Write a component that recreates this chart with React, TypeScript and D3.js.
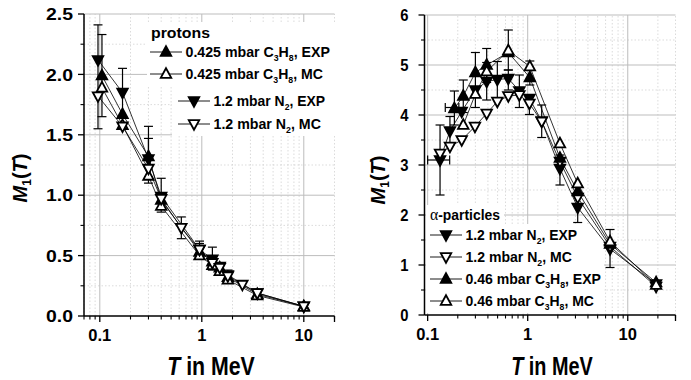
import React, { useLayoutEffect, useRef, useState } from 'react';
import * as d3 from 'd3';

const FONT = "'Liberation Sans', Arial, Helvetica, sans-serif";

// ---------- Protons panel data ----------
const pTitle = 'protons';
const pC3H8ExpLabel = '0.425 mbar C_3H_8, EXP';
const pC3H8ExpT = [0.105, 0.167, 0.3, 0.4, 0.95, 1.27, 1.5, 1.8, 3.5, 10];
const pC3H8ExpM = [1.99, 1.67, 1.32, 0.96, 0.53, 0.45, 0.4, 0.32, 0.18, 0.08];
const pC3H8ExpErr = [[0.105, 1.65, 2.33], [0.3, 1.1, 1.57], [0.95, 0.47, 0.6]];

const pC3H8McLabel = '0.425 mbar C_3H_8, MC';
const pC3H8McT = [0.105, 0.167, 0.3, 0.4, 0.95, 1.27, 1.5, 1.8, 3.5, 10];
const pC3H8McM = [1.89, 1.58, 1.16, 0.91, 0.5, 0.42, 0.37, 0.3, 0.17, 0.075];

const pN2ExpLabel = '1.2 mbar N_2, EXP';
const pN2ExpT = [0.096, 0.167, 0.3, 0.4, 0.95, 1.27, 1.5, 1.8, 3.5, 10];
const pN2ExpM = [2.12, 1.85, 1.3, 0.99, 0.55, 0.47, 0.41, 0.34, 0.19, 0.08];
const pN2ExpErr = [[0.096, 1.55, 2.41], [0.167, 1.65, 2.05], [0.3, 1.15, 1.47], [0.4, 0.86, 1.14], [0.95, 0.48, 0.62], [1.27, 0.38, 0.57], [1.8, 0.3, 0.38]];

const pN2McLabel = '1.2 mbar N_2, MC';
const pN2McT = [0.096, 0.167, 0.3, 0.4, 0.63, 0.95, 1.27, 1.5, 1.8, 2.5, 3.5, 10];
const pN2McM = [1.82, 1.57, 1.22, 0.97, 0.73, 0.55, 0.44, 0.4, 0.33, 0.26, 0.19, 0.08];
const pN2McErr = [[0.63, 0.64, 0.82]];

const pXTicks = [0.1, 1, 10];
const pXTickLabels = ['0.1', '1', '10'];
const pYTicks = [0, 0.5, 1, 1.5, 2, 2.5];
const pYTickLabels = ['0.0', '0.5', '1.0', '1.5', '2.0', '2.5'];

// ---------- Alpha panel data ----------
const aTitle = 'α-particles';
const aN2ExpLabel = '1.2 mbar N_2, EXP';
const aN2ExpT = [0.133, 0.167, 0.219, 0.3, 0.389, 0.497, 0.64, 0.825, 1.04, 1.38, 2.1, 3.16, 6.65, 19.2];
const aN2ExpM = [3.1, 3.68, 4.07, 4.5, 4.67, 4.71, 4.73, 4.48, 4.33, 3.88, 2.93, 2.15, 1.32, 0.62];
const aN2ExpErr = [[0.133, 2.4, 3.8], [0.167, 3.4, 3.97], [0.389, 4.3, 5.05], [0.497, 4.3, 5.07], [0.64, 4.5, 4.9], [0.825, 4.15, 4.8], [1.04, 4.01, 4.4], [1.38, 3.55, 4.2], [2.1, 2.6, 3.2], [3.16, 1.85, 2.45], [6.65, 0.95, 1.71]];
const aN2ExpXErr = [[0.133, 3.1, 0.1, 0.166]];

const aN2McLabel = '1.2 mbar N_2, MC';
const aN2McT = [0.133, 0.167, 0.219, 0.297, 0.389, 0.497, 0.64, 0.825, 1.04, 1.38, 2.1, 3.16, 6.65, 19.2];
const aN2McM = [3.23, 3.37, 3.5, 3.77, 4.03, 4.27, 4.38, 4.4, 4.23, 3.87, 3.07, 2.35, 1.37, 0.57];

const aC3H8ExpLabel = '0.46 mbar C_3H_8, EXP';
const aC3H8ExpT = [0.185, 0.227, 0.3, 0.389, 0.64, 1.05, 2.1, 3.16, 6.65, 19.2];
const aC3H8ExpM = [4.13, 4.38, 4.85, 5.0, 5.25, 4.75, 3.14, 2.47, 1.42, 0.65];
const aC3H8ExpErr = [[0.185, 3.8, 4.48], [0.227, 4.05, 4.7], [0.3, 4.15, 5.25], [0.389, 4.65, 5.33], [0.64, 4.9, 5.7], [1.05, 4.6, 5.08]];
const aC3H8ExpXErr = [[0.185, 4.15, 0.15, 0.205]];

const aC3H8McLabel = '0.46 mbar C_3H_8, MC';
const aC3H8McT = [0.227, 0.3, 0.389, 0.64, 1.05, 2.1, 3.16, 6.65, 19.2];
const aC3H8McM = [3.8, 4.42, 4.87, 5.29, 4.97, 3.43, 2.63, 1.47, 0.6];

const aXTicks = [0.1, 1, 10];
const aXTickLabels = ['0.1', '1', '10'];
const aYTicks = [0, 1, 2, 3, 4, 5, 6];
const aYTickLabels = ['0', '1', '2', '3', '4', '5', '6'];

type Series = {
  label: string; t: number[]; m: number[]; filled: boolean; dir: 'up' | 'down';
  err?: number[][]; xerr?: number[][];
};

const protonSeries: Series[] = [
  { label: pC3H8ExpLabel, t: pC3H8ExpT, m: pC3H8ExpM, filled: true, dir: 'up', err: pC3H8ExpErr },
  { label: pC3H8McLabel, t: pC3H8McT, m: pC3H8McM, filled: false, dir: 'up' },
  { label: pN2ExpLabel, t: pN2ExpT, m: pN2ExpM, filled: true, dir: 'down', err: pN2ExpErr },
  { label: pN2McLabel, t: pN2McT, m: pN2McM, filled: false, dir: 'down', err: pN2McErr },
];

const alphaSeries: Series[] = [
  { label: aN2ExpLabel, t: aN2ExpT, m: aN2ExpM, filled: true, dir: 'down', err: aN2ExpErr, xerr: aN2ExpXErr },
  { label: aN2McLabel, t: aN2McT, m: aN2McM, filled: false, dir: 'down' },
  { label: aC3H8ExpLabel, t: aC3H8ExpT, m: aC3H8ExpM, filled: true, dir: 'up', err: aC3H8ExpErr, xerr: aC3H8ExpXErr },
  { label: aC3H8McLabel, t: aC3H8McT, m: aC3H8McM, filled: false, dir: 'up' },
];

function tri(cx: number, cy: number, s: number, dir: 'up' | 'down') {
  const h = s * 0.92;
  if (dir === 'up') {
    return `M${cx},${cy - h * 0.6}L${cx + s / 2},${cy + h * 0.4}L${cx - s / 2},${cy + h * 0.4}Z`;
  }
  return `M${cx},${cy + h * 0.6}L${cx + s / 2},${cy - h * 0.4}L${cx - s / 2},${cy - h * 0.4}Z`;
}

// Text that is horizontally scaled so that its drawn width equals `width`.
function FitText({ x, y, width, anchor = 'start', size, children, italic }: any) {
  const ref = useRef<SVGTextElement>(null);
  const [sx, setSx] = useState(1);
  useLayoutEffect(() => {
    if (ref.current) {
      const w = ref.current.getBBox().width;
      if (w > 0) setSx(width / w);
    }
  }, [width]);
  return (
    <g transform={`translate(${x},${y}) scale(${sx},1)`}>
      <text ref={ref} x={0} y={0} textAnchor={anchor} fontFamily={FONT} fontWeight="bold" fontSize={size} fontStyle={italic ? 'italic' : 'normal'} fill="#000">{children}</text>
    </g>
  );
}

function subParts(label: string, size: number) {
  const parts = label.split(/_(\d)/);
  const out: any[] = [];
  parts.forEach((p, i) => {
    if (i % 2 === 1) {
      out.push(<tspan key={i} dy={4} fontSize={size * 0.62}>{p}</tspan>);
    } else if (p.length) {
      out.push(<tspan key={i} dy={i === 0 ? 0 : -4}>{p}</tspan>);
    }
  });
  return out;
}

type LegendRow = { idx: number; y: number; x0: number; w: number };
type PanelProps = {
  series: Series[];
  xDomain: [number, number]; xRange: [number, number];
  yDomain: [number, number]; yRange: [number, number];
  yMajor: number; yMinor: number;
  xTicks: number[]; xTickLabels: string[];
  yTicks: number[]; yTickLabels: string[];
  yTickFont: number; yLabelGap: number; yTickW: number;
  yTitleX: number; yTitleY: number;
  xTitleX: number; xTitleW: number;
  title: string; titleX: number; titleY: number; titleW: number;
  legendRows: LegendRow[];
  legendBoxes: number[][];
};

function Panel(p: PanelProps) {
  const x = d3.scaleLog().domain(p.xDomain).range(p.xRange);
  const y = d3.scaleLinear().domain(p.yDomain).range(p.yRange);
  const [x0, x1] = p.xRange;
  const [yb, yt] = p.yRange;

  const xMinor: number[] = [];
  for (let e = -2; e <= 2; e++) {
    for (let k = 2; k <= 9; k++) {
      const v = k * Math.pow(10, e);
      if (v >= p.xDomain[0] && v <= p.xDomain[1]) xMinor.push(v);
    }
  }
  const yMinorVals: number[] = [];
  for (let v = p.yDomain[0] + p.yMinor; v < p.yDomain[1]; v += p.yMajor) yMinorVals.push(+v.toFixed(4));

  const line = d3.line<[number, number]>().x(d => x(d[0])).y(d => y(d[1]));
  const S = 10.5;

  return (
    <g>
      {xMinor.map(v => (
        <line key={'xm' + v} x1={x(v)} x2={x(v)} y1={yb} y2={yt} stroke="#d2d2d2" strokeWidth={0.8} strokeDasharray="1.5,2" />
      ))}
      {yMinorVals.map(v => (
        <line key={'ym' + v} x1={x0} x2={x1} y1={y(v)} y2={y(v)} stroke="#d2d2d2" strokeWidth={0.8} strokeDasharray="1.5,2" />
      ))}
      {p.xTicks.map(v => (
        <line key={'xg' + v} x1={x(v)} x2={x(v)} y1={yb} y2={yt} stroke="#bdbdbd" strokeWidth={1} />
      ))}
      {p.yTicks.filter(v => v !== p.yDomain[0]).map(v => (
        <line key={'yg' + v} x1={x0} x2={x1} y1={y(v)} y2={y(v)} stroke="#bdbdbd" strokeWidth={1} />
      ))}
      {p.legendBoxes.map((b, i) => (
        <rect key={'lb' + i} x={b[0]} y={b[1]} width={b[2]} height={b[3]} fill="#fff" />
      ))}
      <line x1={x0} x2={x1} y1={yb} y2={yb} stroke="#000" strokeWidth={1.5} />
      <line x1={x0} x2={x0} y1={yb} y2={yt} stroke="#000" strokeWidth={1.5} />
      {p.xTicks.map(v => (
        <line key={'xt' + v} x1={x(v)} x2={x(v)} y1={yb} y2={yb + 6} stroke="#000" strokeWidth={1.3} />
      ))}
      {xMinor.map(v => (
        <line key={'xtm' + v} x1={x(v)} x2={x(v)} y1={yb} y2={yb + 3.5} stroke="#000" strokeWidth={1.1} />
      ))}
      <line x1={x1} x2={x1} y1={yb} y2={yb + 6} stroke="#000" strokeWidth={1.3} />
      {p.yTicks.map(v => (
        <line key={'yt' + v} x1={x0 - 6} x2={x0} y1={y(v)} y2={y(v)} stroke="#000" strokeWidth={1.3} />
      ))}
      {yMinorVals.map(v => (
        <line key={'ytm' + v} x1={x0 - 3.5} x2={x0} y1={y(v)} y2={y(v)} stroke="#000" strokeWidth={1.1} />
      ))}
      {p.xTicks.map((v, i) => (
        <text key={'xl' + v} x={x(v)} y={yb + 25} textAnchor="middle" fontFamily={FONT} fontWeight="bold" fontSize={16.5}>{p.xTickLabels[i]}</text>
      ))}
      {p.yTicks.map((v, i) => (
        <FitText key={'yl' + v} x={x0 - p.yLabelGap} y={y(v) + p.yTickFont * 0.36} width={p.yTickW * p.yTickLabels[i].length / 3} anchor="end" size={p.yTickFont}>{p.yTickLabels[i]}</FitText>
      ))}
      <FitText x={p.xTitleX} y={375} width={p.xTitleW} anchor="middle" size={25}>
        <tspan fontStyle="italic">T</tspan><tspan>{'  in MeV'}</tspan>
      </FitText>
      <text transform={`translate(${p.yTitleX},${p.yTitleY}) rotate(-90)`} textAnchor="middle" fontFamily={FONT} fontWeight="bold" fontSize={20}>
        <tspan fontStyle="italic">M</tspan><tspan dy={4} fontSize={12}>1</tspan><tspan dy={-4}>(</tspan><tspan fontStyle="italic">T</tspan><tspan>)</tspan>
      </text>
      {p.series.map((s, i) => (
        <path key={'ln' + i} d={line(s.t.map((t, j) => [t, s.m[j]] as [number, number])) || ''} fill="none" stroke="#000" strokeWidth={0.8} />
      ))}
      {p.series.map((s, i) => (
        <g key={'er' + i}>
          {(s.err || []).map((e, j) => (
            <g key={j}>
              <line x1={x(e[0])} x2={x(e[0])} y1={y(e[1])} y2={y(e[2])} stroke="#000" strokeWidth={1.2} />
              <line x1={x(e[0]) - 4.5} x2={x(e[0]) + 4.5} y1={y(e[1])} y2={y(e[1])} stroke="#000" strokeWidth={1.2} />
              <line x1={x(e[0]) - 4.5} x2={x(e[0]) + 4.5} y1={y(e[2])} y2={y(e[2])} stroke="#000" strokeWidth={1.2} />
            </g>
          ))}
          {(s.xerr || []).map((e, j) => (
            <g key={'x' + j}>
              <line x1={x(e[2])} x2={x(e[3])} y1={y(e[1])} y2={y(e[1])} stroke="#000" strokeWidth={1.2} />
              <line x1={x(e[2])} x2={x(e[2])} y1={y(e[1]) - 4.5} y2={y(e[1]) + 4.5} stroke="#000" strokeWidth={1.2} />
              <line x1={x(e[3])} x2={x(e[3])} y1={y(e[1]) - 4.5} y2={y(e[1]) + 4.5} stroke="#000" strokeWidth={1.2} />
            </g>
          ))}
        </g>
      ))}
      {p.series.map((s, i) => (
        <g key={'mk' + i}>
          {s.t.map((t, j) => (
            <path key={j} d={tri(x(t), y(s.m[j]), S, s.dir)} fill={s.filled ? '#000' : '#fff'} stroke="#000" strokeWidth={1.8} />
          ))}
        </g>
      ))}
      <FitText x={p.titleX} y={p.titleY} width={p.titleW} size={15}>
        {p.title.startsWith('α') ? (<><tspan fontFamily="'Liberation Serif', 'Times New Roman', serif" fontWeight="normal" fontSize={17}>α</tspan><tspan>{p.title.slice(1)}</tspan></>) : p.title}
      </FitText>
      {p.legendRows.map(r => {
        const s = p.series[r.idx];
        return (
          <g key={'lg' + r.idx}>
            <line x1={r.x0} x2={r.x0 + 32} y1={r.y} y2={r.y} stroke="#000" strokeWidth={0.9} />
            <path d={tri(r.x0 + 16, r.y, S, s.dir)} fill={s.filled ? '#000' : '#fff'} stroke="#000" strokeWidth={1.8} />
            <FitText x={r.x0 + 35.5} y={r.y + 5} width={r.w} size={14.5}>{subParts(s.label, 14.5)}</FitText>
          </g>
        );
      })}
    </g>
  );
}

export default function App() {
  return (
    <svg width={691} height={380} viewBox="0 0 691 380" style={{ position: 'absolute', left: 0, top: 0, background: '#fff' }}>
      <rect x={0} y={0} width={691} height={380} fill="#fff" />
      <Panel
        series={protonSeries}
        xDomain={[0.07, 20]} xRange={[84, 334.5]}
        yDomain={[0, 2.5]} yRange={[316, 14]}
        yMajor={0.5} yMinor={0.25}
        xTicks={pXTicks} xTickLabels={pXTickLabels}
        yTicks={pYTicks} yTickLabels={pYTickLabels}
        yTickFont={17} yLabelGap={11} yTickW={27}
        yTitleX={27} yTitleY={178}
        xTitleX={211} xTitleW={88}
        title={pTitle} titleX={151} titleY={38} titleW={59}
        legendRows={[
          { idx: 0, y: 52, x0: 150, w: 145 },
          { idx: 1, y: 74, x0: 150, w: 138 },
          { idx: 2, y: 101, x0: 178, w: 112 },
          { idx: 3, y: 124, x0: 178, w: 108 },
        ]}
        legendBoxes={[[147, 22, 188, 64], [172, 86, 163, 50]]}
      />
      <Panel
        series={alphaSeries}
        xDomain={[0.093, 30]} xRange={[424.5, 675.5]}
        yDomain={[0, 6]} yRange={[315, 15]}
        yMajor={1} yMinor={0.5}
        xTicks={aXTicks} xTickLabels={aXTickLabels}
        yTicks={aYTicks} yTickLabels={aYTickLabels}
        yTickFont={16} yLabelGap={16} yTickW={25}
        yTitleX={385} yTitleY={180}
        xTitleX={552} xTitleW={82}
        title={aTitle} titleX={430} titleY={220} titleW={70}
        legendRows={[
          { idx: 0, y: 235, x0: 430, w: 112 },
          { idx: 1, y: 257, x0: 430, w: 107 },
          { idx: 2, y: 279, x0: 430, w: 136 },
          { idx: 3, y: 301, x0: 430, w: 129 },
        ]}
        legendBoxes={[[426, 205, 78, 20], [426, 224, 178, 89]]}
      />
    </svg>
  );
}
